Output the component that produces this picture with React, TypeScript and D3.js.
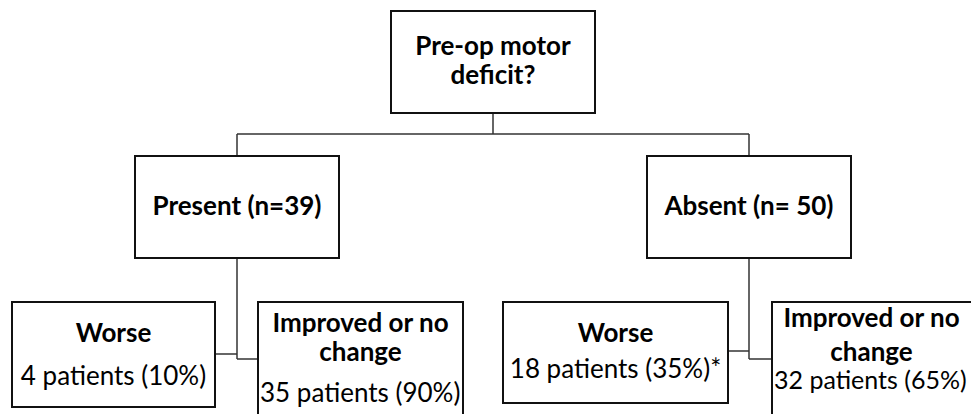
import React from 'react';
import * as d3 from 'd3';

// node texts
const rootLines = ['Pre-op motor', 'deficit?'];
const groupLabels = ['Present (n=39)', 'Absent (n= 50)'];
const outcomeTitles = [['Worse'], ['Improved or no', 'change'], ['Worse'], ['Improved or no', 'change']];
const outcomeCounts = ['4 patients (10%)', '35 patients (90%)', '18 patients (35%)*', '32 patients (65%)'];

const width = 971;
const height = 414;
const font = 'Lato, "Open Sans", sans-serif';
const fs = 26;

// layout
const rootBox = { x: 391, y: 11, w: 204, h: 102 };
const groupBoxes = [
  { x: 135, y: 156, w: 204, h: 102 },
  { x: 647, y: 156, w: 204, h: 102 },
];
const outcomeBoxes = [
  { x: 12, y: 302, w: 203, h: 105, titleY: [342], countY: 385, joinY: 354 },
  { x: 258, y: 302, w: 205, h: 130, titleY: [332, 361], countY: 402, joinY: 359 },
  { x: 503, y: 302, w: 225, h: 101, titleY: [342], countY: 378, joinY: 351 },
  { x: 772, y: 302, w: 205, h: 130, titleY: [327, 361], countY: 389, joinY: 359 },
];

const App: React.FC = () => {
  const cx = (b: { x: number; w: number }) => b.x + b.w / 2;
  const branchY = 134;
  const line = d3.line();

  const connectors: [number, number][][] = [];
  // root to groups
  connectors.push([[cx(rootBox), rootBox.y + rootBox.h], [cx(rootBox), branchY]]);
  connectors.push([[cx(groupBoxes[0]), branchY], [cx(groupBoxes[1]), branchY]]);
  groupBoxes.forEach((g) => connectors.push([[cx(g), branchY], [cx(g), g.y]]));
  // groups to outcomes
  groupBoxes.forEach((g, i) => {
    const left = outcomeBoxes[i * 2];
    const right = outcomeBoxes[i * 2 + 1];
    const mx = cx(g);
    connectors.push([[mx, g.y + g.h], [mx, right.joinY]]);
    connectors.push([[left.x + left.w, left.joinY], [mx, left.joinY]]);
    connectors.push([[mx, right.joinY], [right.x, right.joinY]]);
  });

  return (
    <svg width={width} height={height} style={{ position: 'absolute', left: 0, top: 0, background: '#fff' }}>
      <rect width={width} height={height} fill="#fff" />
      {connectors.map((c, i) => (
        <path key={i} d={line(c) || ''} fill="none" stroke="#333" strokeWidth={1.5} />
      ))}
      <rect x={rootBox.x} y={rootBox.y} width={rootBox.w} height={rootBox.h} fill="#fff" stroke="#111" strokeWidth={2} />
      {rootLines.map((t, i) => (
        <text key={t} x={cx(rootBox)} y={55 + i * 29} textAnchor="middle" fontFamily={font} fontWeight={700} fontSize={fs} fill="#000">{t}</text>
      ))}
      {groupBoxes.map((b, i) => (
        <g key={i}>
          <rect x={b.x} y={b.y} width={b.w} height={b.h} fill="#fff" stroke="#111" strokeWidth={2} />
          <text x={cx(b)} y={215} textAnchor="middle" fontFamily={font} fontWeight={700} fontSize={fs} fill="#000">{groupLabels[i]}</text>
        </g>
      ))}
      {outcomeBoxes.map((b, i) => (
        <g key={i}>
          <rect x={b.x} y={b.y} width={b.w} height={b.h} fill="#fff" stroke="#111" strokeWidth={2} />
          {outcomeTitles[i].map((t, j) => (
            <text key={j} x={cx(b) - (i === 3 ? 3 : 0)} y={b.titleY[j]} textAnchor="middle" fontFamily={font} fontWeight={700} fontSize={fs} fill="#000">{t}</text>
          ))}
          <text x={i % 2 === 1 ? b.x + 2 : cx(b)} y={b.countY} textAnchor={i % 2 === 1 ? 'start' : 'middle'} fontFamily={font} fontSize={i === 3 ? 25 : fs} fill="#000">{outcomeCounts[i]}</text>
        </g>
      ))}
    </svg>
  );
};

export default App;
